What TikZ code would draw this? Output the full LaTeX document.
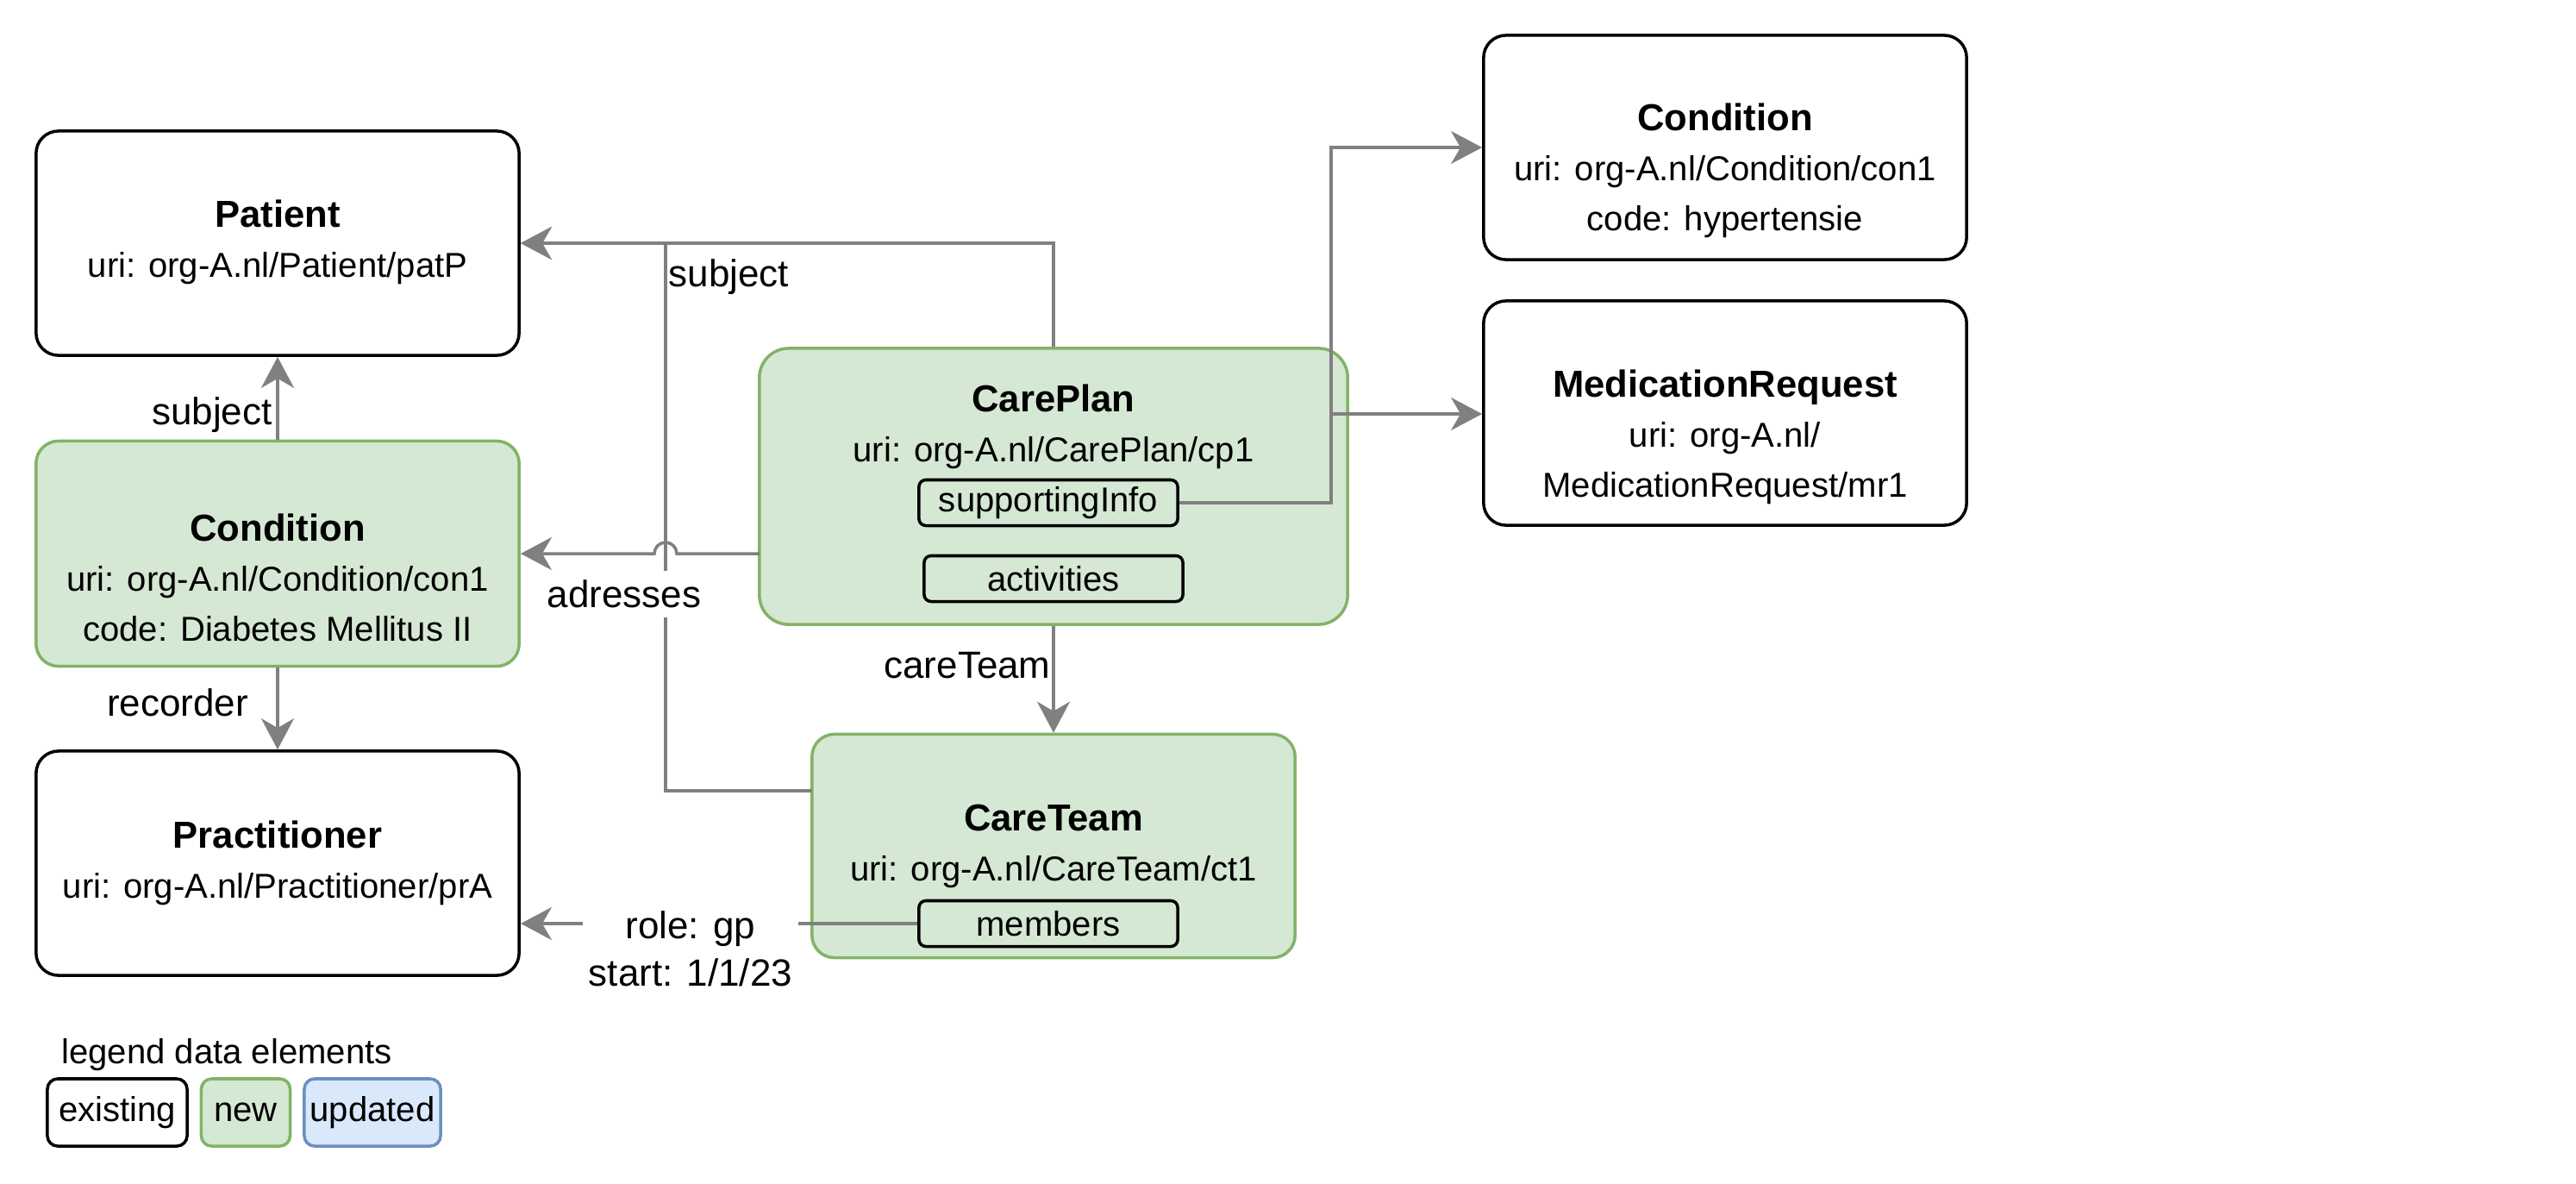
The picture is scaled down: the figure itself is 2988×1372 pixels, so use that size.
\documentclass[tikz,border=0pt]{standalone}
\usepackage{fontspec}
\setmainfont{Liberation Sans}
\usepackage{tikz}
\usetikzlibrary{calc,arrows.meta}
\definecolor{edgec}{HTML}{808080}
\definecolor{newfill}{HTML}{D5E8D4}
\definecolor{newline}{HTML}{82B366}
\definecolor{updfill}{HTML}{DAE8FC}
\definecolor{updline}{HTML}{6C8EBF}
\tikzset{
  ar/.style={-{Stealth[length=3.6mm,width=3.8mm,inset=1.1mm]},line width=1pt,edgec},
  box/.style={draw=black,line width=1pt,rounded corners=2.6mm,fill=white,minimum width=5.6cm,minimum height=2.6cm},
  newbox/.style={box,draw=newline,fill=newfill},
  sub/.style={draw=black,line width=1pt,rounded corners=0.8mm,minimum width=3.0cm,minimum height=0.53cm,inner sep=0pt,font=\fontsize{11.4}{13}\selectfont},
  txt/.style={align=center,font=\fontsize{11.4}{16.5}\selectfont,inner sep=0pt},
  lbl/.style={align=center,font=\fontsize{12.5}{15.7}\selectfont,inner sep=0pt},
  leg/.style={line width=1pt,rounded corners=1.2mm,minimum height=0.78cm,inner sep=0pt,font=\fontsize{11.4}{13}\selectfont}
}
\newcommand{\boxtitle}[1]{{\fontsize{12.4}{16.5}\selectfont\bfseries #1}}

\begin{document}
\begin{tikzpicture}[x=0.01cm,y=-0.01cm]
\useasboundingbox (0,0) rectangle (2988,1372);
% resources
\node[box] (pat) at (322,282) {};
\node[newbox,minimum height=2.61cm] (conL) at (322,642) {};
\node[box] (prac) at (322,1001) {};
\node[newbox,minimum width=6.82cm,minimum height=3.2cm,rounded corners=3.4mm] (cp) at (1222,564) {};
\node[newbox,minimum height=2.59cm] (ct) at (1222,981) {};
\node[box] (conR) at (2001,171) {};
\node[box] (med) at (2001,479) {};
\node[txt] (patT) at (322,281) {\boxtitle{Patient}\\uri: org-A.nl/Patient/patP};
\node[txt] (conLT) at (322,670) {\boxtitle{Condition}\\uri: org-A.nl/Condition/con1\\code: Diabetes Mellitus II};
\node[txt] (pracT) at (322,1001) {\boxtitle{Practitioner}\\uri: org-A.nl/Practitioner/prA};
\node[txt] (cpT) at (1222,495) {\boxtitle{CarePlan}\\uri: org-A.nl/CarePlan/cp1};
\node[txt] (ctT) at (1222,981) {\boxtitle{CareTeam}\\uri: org-A.nl/CareTeam/ct1};
\node[txt] (conRT) at (2001,198) {\boxtitle{Condition}\\uri: org-A.nl/Condition/con1\\code: hypertensie};
\node[txt] (medT) at (2001,507) {\boxtitle{MedicationRequest}\\uri: org-A.nl/\\MedicationRequest/mr1};
\node[sub] (sup) at (1216,583) {supportingInfo};
\node[sub] (act) at (1222,671) {activities};
\node[sub] (mem) at (1216,1071) {members};
% connectors
\coordinate (ctout) at (942,917);
\coordinate (jv) at (772,282);
\coordinate (cpL) at (881,642);
\coordinate (bend) at (1544,171);
\coordinate (jn) at (1544,480);
\draw[ar] (conL.north) -- (pat.south);
\draw[ar] (cp.north) |- (pat.east);
\draw[ar] (ctout) -| (jv) -- (pat.east);
\draw[ar] (cpL) -- (785,642) arc[start angle=0,end angle=180,radius=1.3mm] -- (conL.east |- cpL);
\draw[ar] (conL.south) -- (prac.north);
\draw[ar] (cp.south) -- (ct.north);
\draw[ar] (sup.east) -| (bend) -- (conR.west);
\draw[ar] (jn) -- (med.west |- jn);
\draw[ar] (mem.west) -- (prac.east |- mem.west);
% labels
\node[lbl] (lsubA) at (246,481) {subject};
\node[lbl,anchor=west] (lsubB) at (775,321) {subject};
\node[lbl,fill=white,inner sep=3pt] (ladr) at (724,689) {adresses};
\node[lbl] (lrec) at (206,815) {recorder};
\node[lbl] (lct) at (1122,772) {careTeam};
\node[lbl,fill=white,inner sep=2pt] (lrole) at (801,1100) {role: gp\\start: 1/1/23};
% legend
\node[txt] (legT) at (263,1223) {legend data elements};
\node[leg,draw=black,minimum width=1.62cm] (legE) at (136,1290) {existing};
\node[leg,draw=newline,fill=newfill,minimum width=1.03cm] (legN) at (285,1290) {new};
\node[leg,draw=updline,fill=updfill,minimum width=1.58cm] (legU) at (432,1290) {updated};
\end{tikzpicture}
\end{document}
